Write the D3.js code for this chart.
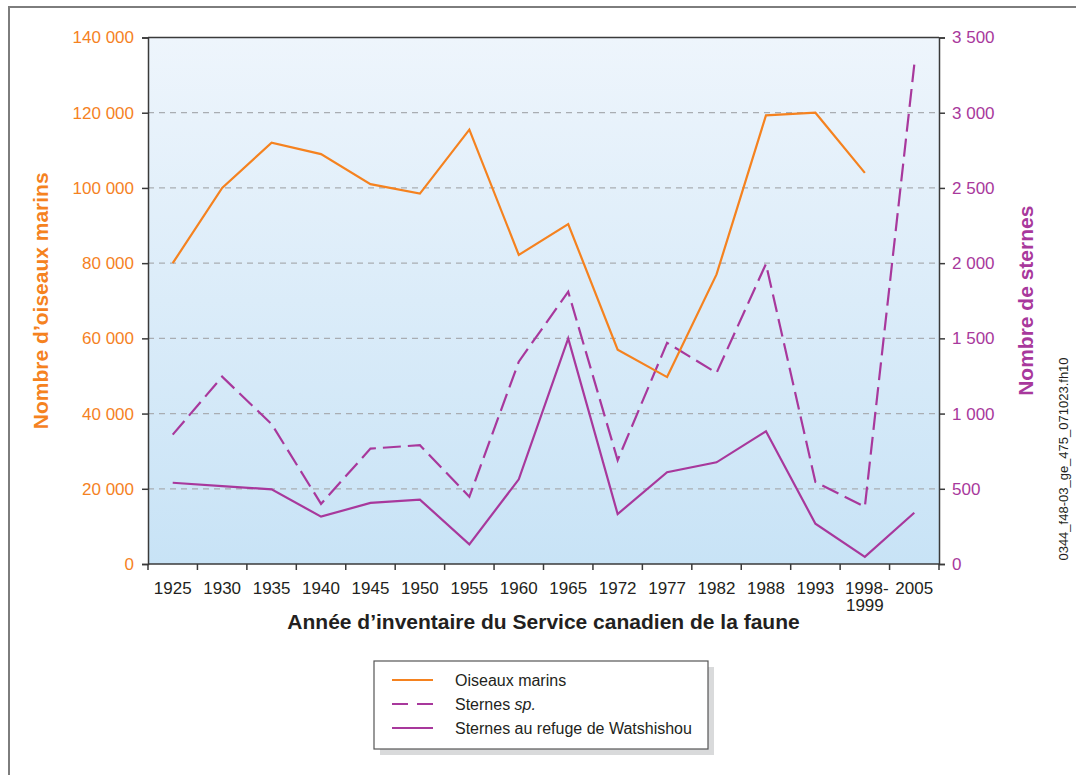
<!DOCTYPE html>
<html>
<head>
<meta charset="utf-8">
<script src="https://cdn.jsdelivr.net/npm/d3@7"></script>
<style>
  html, body { margin: 0; padding: 0; background: #fff; }
  svg { display: block; font-family: "Liberation Sans", Arial, sans-serif; }
</style>
</head>
<body>
<svg id="chart" width="1076" height="775"></svg>
<script>
// Survey years (labels on the x axis)
const years = ["1925", "1930", "1935", "1940", "1945", "1950", "1955", "1960",
               "1965", "1972", "1977", "1982", "1988", "1993", "1998-1999", "2005"];

// Seabirds (left axis); no count for 2005
const seabirds = [80000, 100000, 112000, 109000, 101000, 98500, 115500, 82200,
                  90400, 57000, 49700, 77000, 119300, 120000, 104000, null];

// Terns sp. (right axis)
const ternsSp = [860, 1245, 930, 400, 767, 790, 447, 1345,
                 1810, 690, 1470, 1270, 1995, 545, 380, 3320];

// Terns at the Watshishou refuge (right axis)
const ternsRefuge = [540, 518, 496, 315, 406, 428, 131, 563,
                     1500, 332, 610, 676, 882, 268, 47, 341];

const leftTicks = [0, 20000, 40000, 60000, 80000, 100000, 120000, 140000];
const rightTicks = [0, 500, 1000, 1500, 2000, 2500, 3000, 3500];

const ORANGE = "#F5821F";
const PURPLE = "#A8389C";
const AXIS = "#3a3a3a";

const svg = d3.select("#chart");
const plot = { left: 148, right: 939, top: 37.5, bottom: 564 };

// Outer frame (top and left edges visible)
svg.append("path")
  .attr("d", `M9,775 L9,7 L1076,7`)
  .attr("fill", "none").attr("stroke", "#7d7d7d").attr("stroke-width", 2);

// Background gradient of the plotting area
const defs = svg.append("defs");
const grad = defs.append("linearGradient").attr("id", "bg")
  .attr("x1", 0).attr("y1", 0).attr("x2", 0).attr("y2", 1);
grad.append("stop").attr("offset", "0%").attr("stop-color", "#EEF5FC");
grad.append("stop").attr("offset", "100%").attr("stop-color", "#C8E3F6");

svg.append("rect")
  .attr("x", plot.left).attr("y", plot.top)
  .attr("width", plot.right - plot.left).attr("height", plot.bottom - plot.top)
  .attr("fill", "url(#bg)");

const x = d3.scaleBand().domain(years).range([plot.left, plot.right]);
const yL = d3.scaleLinear().domain([0, 140000]).range([plot.bottom, plot.top]);
const yR = d3.scaleLinear().domain([0, 3500]).range([plot.bottom, plot.top]);

const fmt = v => d3.format(",")(v).replace(/,/g, " ");

// Dashed gridlines
svg.append("g").selectAll("line")
  .data(leftTicks.filter(t => t > 0 && t < 140000))
  .join("line")
  .attr("x1", plot.left).attr("x2", plot.right)
  .attr("y1", d => yL(d)).attr("y2", d => yL(d))
  .attr("stroke", "#a9adb2").attr("stroke-width", 1.2)
  .attr("stroke-dasharray", "6,5");

// Plot top border
svg.append("line")
  .attr("x1", plot.left).attr("x2", plot.right)
  .attr("y1", plot.top).attr("y2", plot.top)
  .attr("stroke", AXIS).attr("stroke-width", 1.5);

// Left axis
const gL = svg.append("g").attr("transform", `translate(${plot.left},0)`)
  .call(d3.axisLeft(yL).tickValues(leftTicks).tickFormat(fmt).tickSize(6).tickPadding(8));
gL.select(".domain").attr("stroke", AXIS).attr("stroke-width", 1.5);
gL.selectAll(".tick line").attr("stroke", AXIS).attr("stroke-width", 1.5);
gL.selectAll(".tick text").attr("fill", ORANGE).attr("font-size", 17)
  .attr("font-family", "Liberation Sans, Arial, sans-serif");

// Right axis
const gR = svg.append("g").attr("transform", `translate(${plot.right},0)`)
  .call(d3.axisRight(yR).tickValues(rightTicks).tickFormat(fmt).tickSize(6).tickPadding(7));
gR.select(".domain").attr("stroke", AXIS).attr("stroke-width", 1.5);
gR.selectAll(".tick line").attr("stroke", AXIS).attr("stroke-width", 1.5);
gR.selectAll(".tick text").attr("fill", PURPLE).attr("font-size", 17)
  .attr("font-family", "Liberation Sans, Arial, sans-serif");

// Bottom axis: ticks on the category boundaries
const gB = svg.append("g").attr("transform", `translate(0,${plot.bottom})`);
gB.append("line").attr("x1", plot.left).attr("x2", plot.right)
  .attr("stroke", AXIS).attr("stroke-width", 1.5);
const bounds = years.map(d => x(d)).concat([plot.right]);
gB.selectAll("line.tk").data(bounds).join("line").attr("class", "tk")
  .attr("x1", d => d).attr("x2", d => d).attr("y1", 0).attr("y2", 6)
  .attr("stroke", AXIS).attr("stroke-width", 1.5);
const xl = gB.selectAll("text.lbl").data(years).join("text").attr("class", "lbl")
  .attr("x", d => x(d) + x.bandwidth() / 2).attr("y", 30)
  .attr("text-anchor", "middle").attr("font-size", 17).attr("fill", "#231f20");
xl.each(function(d) {
  const t = d3.select(this);
  if (d.includes("-")) {
    const [a, b] = d.split("-");
    t.append("tspan").attr("x", x(d) + x.bandwidth() / 2 + 2).text(a + "-");
    t.append("tspan").attr("x", x(d) + x.bandwidth() / 2).attr("dy", 17).text(b);
  } else {
    t.text(d);
  }
});

// Series lines
const cx = (d, i) => x(years[i]) + x.bandwidth() / 2;
const lineL = d3.line().defined(d => d != null).x(cx).y(d => yL(d));
const lineR = d3.line().x(cx).y(d => yR(d));

svg.append("path").datum(ternsRefuge).attr("d", lineR)
  .attr("fill", "none").attr("stroke", PURPLE).attr("stroke-width", 2.2)
  .attr("stroke-linejoin", "miter");
svg.append("path").datum(ternsSp).attr("d", lineR)
  .attr("fill", "none").attr("stroke", PURPLE).attr("stroke-width", 2.2)
  .attr("stroke-dasharray", "18,7");
svg.append("path").datum(seabirds).attr("d", lineL)
  .attr("fill", "none").attr("stroke", ORANGE).attr("stroke-width", 2.2);

// Axis titles
svg.append("text")
  .attr("transform", `translate(48,${(plot.top + plot.bottom) / 2}) rotate(-90)`)
  .attr("text-anchor", "middle").attr("font-size", 21).attr("font-weight", "bold")
  .attr("fill", ORANGE).text("Nombre d’oiseaux marins");
svg.append("text")
  .attr("transform", `translate(1033,${(plot.top + plot.bottom) / 2}) rotate(-90)`)
  .attr("text-anchor", "middle").attr("font-size", 21).attr("font-weight", "bold")
  .attr("fill", PURPLE).text("Nombre de sternes");
svg.append("text")
  .attr("x", (plot.left + plot.right) / 2).attr("y", 629)
  .attr("text-anchor", "middle").attr("font-size", 21).attr("font-weight", "bold")
  .attr("fill", "#231f20").text("Année d’inventaire du Service canadien de la faune");

// File reference along the right edge
svg.append("text")
  .attr("transform", `translate(1068,459) rotate(-90)`)
  .attr("text-anchor", "middle").attr("font-size", 13)
  .attr("fill", "#231f20").text("0344_f48-03_ge_475_071023.fh10");

// Legend
const lg = svg.append("g").attr("transform", "translate(374,661)");
lg.append("rect").attr("x", 6).attr("y", 6).attr("width", 334).attr("height", 88)
  .attr("fill", "#d9dadb");
lg.append("rect").attr("x", 0).attr("y", 0).attr("width", 334).attr("height", 88)
  .attr("fill", "#fff").attr("stroke", "#555").attr("stroke-width", 1.2);
const items = [
  { label: "Oiseaux marins", color: ORANGE, dash: null },
  { label: "Sternes ", italic: "sp.", color: PURPLE, dash: "16,9" },
  { label: "Sternes au refuge de Watshishou", color: PURPLE, dash: null }
];
items.forEach((it, i) => {
  const yy = 19 + i * 24;
  lg.append("line").attr("x1", 18).attr("x2", 59).attr("y1", yy).attr("y2", yy)
    .attr("stroke", it.color).attr("stroke-width", 2.2)
    .attr("stroke-dasharray", it.dash);
  const t = lg.append("text").attr("x", 81).attr("y", yy + 5.5)
    .attr("font-size", 16).attr("fill", "#231f20");
  t.append("tspan").text(it.label);
  if (it.italic) t.append("tspan").attr("font-style", "italic").text(it.italic);
});
</script>
</body>
</html>
